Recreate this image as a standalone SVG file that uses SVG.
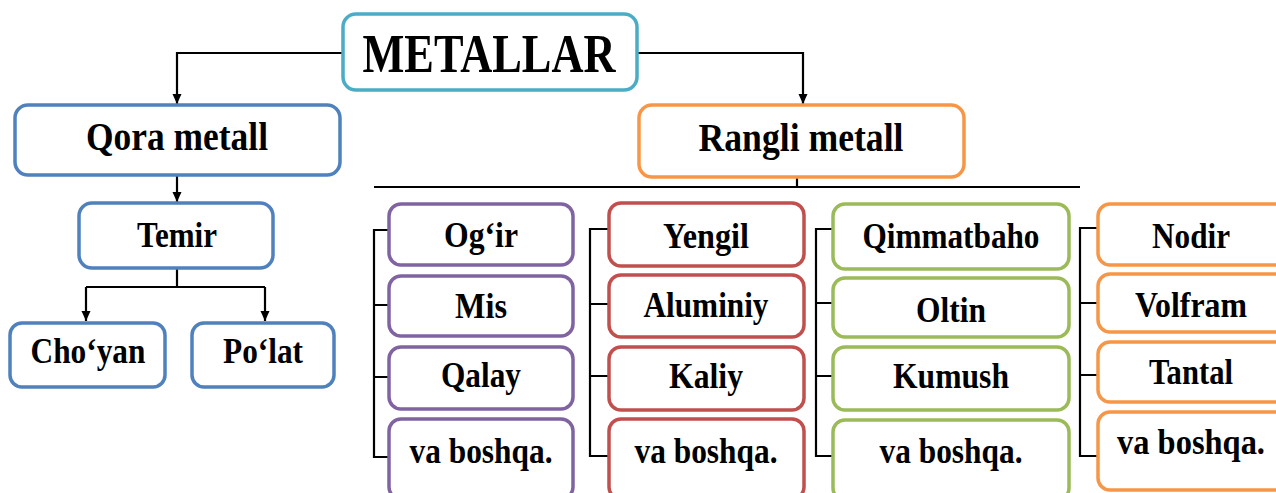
<svg xmlns="http://www.w3.org/2000/svg" width="1276" height="493" viewBox="0 0 1276 493">
<style>
.box{fill:#fff;stroke-width:3.5}
.teal{stroke:#4bacc6}
.blue{stroke:#4f81bd}
.purple{stroke:#8064a2}
.red{stroke:#c0504d}
.green{stroke:#9bbb59}
.orange{stroke:#f79646}
text{font-family:"Liberation Serif","Times New Roman",serif;font-weight:bold;fill:#000;text-anchor:middle}
.t31{font-size:35px}
.t35{font-size:39px}
.conn path{fill:none;stroke:#000;stroke-width:2.2}
</style>
<defs>
<marker id="arr" markerUnits="userSpaceOnUse" markerWidth="10" markerHeight="10" viewBox="0 0 10 10" refX="10" refY="5" orient="auto">
<path d="M0,0.5 L10,5 L0,9.5 z" fill="#000"/>
</marker>
</defs>
<rect width="1276" height="493" fill="#fff"/>

<g class="conn">
<path d="M343,53 H177 V104" marker-end="url(#arr)"/>
<path d="M637,53 H803 V104" marker-end="url(#arr)"/>
<path d="M177,175 V202" marker-end="url(#arr)"/>
<path d="M177,268 V287"/>
<path d="M86,287 H265"/>
<path d="M86,287 V321" marker-end="url(#arr)"/>
<path d="M265,287 V321" marker-end="url(#arr)"/>
<path d="M797,177 V187"/>
<path d="M374,187 H1080"/>
<path d="M389,230 H374 V457 H389 M374,305 H389 M374,377 H389"/>
<path d="M609,229 H590 V456 H609 M590,304 H609 M590,376 H609"/>
<path d="M833,229 H816 V456 H833 M816,303 H833 M816,376 H833"/>
<path d="M1098,228 H1080 V456 H1098 M1080,303 H1098 M1080,375 H1098"/>
</g>

<g id="metallar"><rect class="box teal" x="343" y="14" width="294" height="76" rx="13"/><text x="489" y="72" font-size="54" textLength="253" lengthAdjust="spacingAndGlyphs">METALLAR</text></g>

<g id="qora"><rect class="box blue" x="15" y="105" width="325" height="70" rx="13"/><text class="t35" x="177" y="150" textLength="182" lengthAdjust="spacingAndGlyphs">Qora metall</text></g>
<g id="temir"><rect class="box blue" x="79" y="203" width="194" height="65" rx="13"/><text class="t31" x="177" y="247" textLength="80" lengthAdjust="spacingAndGlyphs">Temir</text></g>
<g id="choyan"><rect class="box blue" x="10" y="323" width="155" height="64" rx="12"/><text class="t31" x="88" y="363" textLength="115" lengthAdjust="spacingAndGlyphs">Cho‘yan</text></g>
<g id="polat"><rect class="box blue" x="192" y="323" width="142" height="64" rx="12"/><text class="t31" x="263" y="363" textLength="80" lengthAdjust="spacingAndGlyphs">Po‘lat</text></g>

<g id="rangli"><rect class="box orange" x="639" y="105" width="325" height="72" rx="13"/><text class="t35" x="801" y="151" textLength="205" lengthAdjust="spacingAndGlyphs">Rangli metall</text></g>

<g id="ogir"><rect class="box purple" x="389" y="204" width="184" height="61" rx="12"/><text class="t31" x="481" y="247" textLength="74" lengthAdjust="spacingAndGlyphs">Og‘ir</text></g>
<g id="mis"><rect class="box purple" x="389" y="276" width="184" height="60" rx="12"/><text class="t31" x="481" y="318" textLength="52" lengthAdjust="spacingAndGlyphs">Mis</text></g>
<g id="qalay"><rect class="box purple" x="389" y="347" width="184" height="62" rx="12"/><text class="t31" x="481" y="387" textLength="80" lengthAdjust="spacingAndGlyphs">Qalay</text></g>
<g id="pboshqa"><rect class="box purple" x="389" y="419" width="184" height="80" rx="12"/><text class="t31" x="481" y="463" textLength="143" lengthAdjust="spacingAndGlyphs">va boshqa.</text></g>

<g id="yengil"><rect class="box red" x="609" y="203" width="195" height="63" rx="12"/><text class="t31" x="706" y="248" textLength="86" lengthAdjust="spacingAndGlyphs">Yengil</text></g>
<g id="aluminiy"><rect class="box red" x="609" y="275" width="195" height="62" rx="12"/><text class="t31" x="706" y="317" textLength="125" lengthAdjust="spacingAndGlyphs">Aluminiy</text></g>
<g id="kaliy"><rect class="box red" x="609" y="347" width="195" height="63" rx="12"/><text class="t31" x="706" y="388" textLength="74" lengthAdjust="spacingAndGlyphs">Kaliy</text></g>
<g id="rboshqa"><rect class="box red" x="609" y="419" width="195" height="80" rx="12"/><text class="t31" x="706" y="463" textLength="143" lengthAdjust="spacingAndGlyphs">va boshqa.</text></g>

<g id="qimmatbaho"><rect class="box green" x="833" y="204" width="236" height="65" rx="12"/><text class="t31" x="951" y="248" textLength="177" lengthAdjust="spacingAndGlyphs">Qimmatbaho</text></g>
<g id="oltin"><rect class="box green" x="833" y="278" width="236" height="59" rx="12"/><text class="t31" x="951" y="322" textLength="70" lengthAdjust="spacingAndGlyphs">Oltin</text></g>
<g id="kumush"><rect class="box green" x="833" y="347" width="236" height="63" rx="12"/><text class="t31" x="951" y="388" textLength="116" lengthAdjust="spacingAndGlyphs">Kumush</text></g>
<g id="gboshqa"><rect class="box green" x="833" y="420" width="236" height="80" rx="12"/><text class="t31" x="951" y="463" textLength="143" lengthAdjust="spacingAndGlyphs">va boshqa.</text></g>

<g id="nodir"><rect class="box orange" x="1098" y="204" width="190" height="61" rx="12"/><text class="t31" x="1191" y="248" textLength="78" lengthAdjust="spacingAndGlyphs">Nodir</text></g>
<g id="volfram"><rect class="box orange" x="1098" y="274" width="190" height="58" rx="12"/><text class="t31" x="1191" y="317" textLength="112" lengthAdjust="spacingAndGlyphs">Volfram</text></g>
<g id="tantal"><rect class="box orange" x="1098" y="342" width="190" height="60" rx="12"/><text class="t31" x="1191" y="384" textLength="84" lengthAdjust="spacingAndGlyphs">Tantal</text></g>
<g id="oboshqa"><rect class="box orange" x="1098" y="412" width="190" height="78" rx="12"/><text class="t31" x="1191" y="454" textLength="148" lengthAdjust="spacingAndGlyphs">va boshqa.</text></g>
</svg>
